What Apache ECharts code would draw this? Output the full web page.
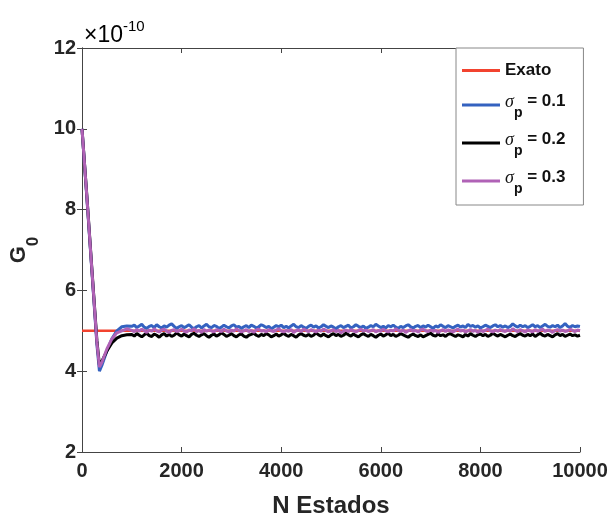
<!DOCTYPE html>
<html><head><meta charset="utf-8">
<script src="https://cdn.jsdelivr.net/npm/echarts@6/dist/echarts.min.js"></script>
<style>html,body{margin:0;padding:0;background:#fff}#c{width:608px;height:520px}</style>
</head><body><div id="c"></div>
<script>
// x positions (N Estados)
var nEstados = [0,100,200,300,350,400,500,600,700,800,900,
1000,1050,1100,1150,1200,1250,1300,1350,1400,1450,1500,1550,1600,1650,1700,1750,1800,1850,1900,1950,
2000,2050,2100,2150,2200,2250,2300,2350,2400,2450,2500,2550,2600,2650,2700,2750,2800,2850,2900,2950,
3000,3050,3100,3150,3200,3250,3300,3350,3400,3450,3500,3550,3600,3650,3700,3750,3800,3850,3900,3950,
4000,4050,4100,4150,4200,4250,4300,4350,4400,4450,4500,4550,4600,4650,4700,4750,4800,4850,4900,4950,
5000,5050,5100,5150,5200,5250,5300,5350,5400,5450,5500,5550,5600,5650,5700,5750,5800,5850,5900,5950,
6000,6050,6100,6150,6200,6250,6300,6350,6400,6450,6500,6550,6600,6650,6700,6750,6800,6850,6900,6950,
7000,7050,7100,7150,7200,7250,7300,7350,7400,7450,7500,7550,7600,7650,7700,7750,7800,7850,7900,7950,
8000,8050,8100,8150,8200,8250,8300,8350,8400,8450,8500,8550,8600,8650,8700,8750,8800,8850,8900,8950,
9000,9050,9100,9150,9200,9250,9300,9350,9400,9450,9500,9550,9600,9650,9700,9750,9800,9850,9900,9950,
10000];
// G0 values in units of 1e-10
var exatoX = [0, 10000];
var exatoY = [5, 5];
var sigma01 = [10.0,8.25,6.45,4.65,4.0,4.15,4.5,4.8,5.0,5.1,5.12,
5.11,5.14,5.08,5.12,5.16,5.09,5.06,5.11,5.13,5.08,
5.15,5.10,5.07,5.12,5.09,5.14,5.17,5.11,5.06,5.10,
5.13,5.08,5.11,5.15,5.09,5.05,5.10,5.13,5.07,5.12,
5.16,5.10,5.08,5.13,5.11,5.06,5.09,5.14,5.10,5.07,
5.12,5.15,5.09,5.11,5.06,5.10,5.13,5.08,5.14,5.11,
5.07,5.10,5.15,5.12,5.08,5.11,5.05,5.09,5.13,5.10,
5.14,5.08,5.11,5.07,5.12,5.16,5.10,5.08,5.13,5.09,
5.06,5.11,5.14,5.09,5.12,5.07,5.10,5.15,5.11,5.08,
5.12,5.09,5.05,5.10,5.13,5.08,5.11,5.14,5.07,5.10,
5.15,5.11,5.08,5.12,5.06,5.09,5.13,5.10,5.16,5.12,
5.08,5.11,5.07,5.13,5.10,5.14,5.09,5.06,5.11,5.08,
5.12,5.15,5.10,5.07,5.11,5.13,5.08,5.12,5.09,5.14,
5.10,5.06,5.12,5.09,5.15,5.11,5.08,5.13,5.10,5.07,
5.11,5.14,5.09,5.12,5.08,5.16,5.11,5.13,5.09,5.12,
5.07,5.10,5.14,5.11,5.08,5.12,5.15,5.10,5.13,5.09,
5.12,5.08,5.11,5.17,5.12,5.09,5.14,5.10,5.13,5.08,
5.11,5.15,5.10,5.13,5.08,5.12,5.16,5.11,5.09,5.13,
5.10,5.14,5.08,5.12,5.18,5.11,5.09,5.13,5.10,5.12,
5.11];
var sigma02 = [10.0,8.3,6.5,4.75,4.15,4.25,4.5,4.7,4.82,4.88,4.9,
4.91,4.87,4.93,4.89,4.85,4.90,4.94,4.88,4.86,4.92,
4.89,4.84,4.90,4.93,4.87,4.91,4.86,4.89,4.95,4.90,
4.87,4.92,4.88,4.85,4.91,4.94,4.89,4.86,4.90,4.93,
4.88,4.84,4.89,4.92,4.87,4.90,4.95,4.91,4.86,4.89,
4.93,4.88,4.85,4.90,4.92,4.87,4.84,4.89,4.91,4.94,
4.89,4.86,4.91,4.88,4.93,4.90,4.85,4.88,4.92,4.87,
4.90,4.94,4.89,4.86,4.91,4.88,4.84,4.90,4.93,4.89,
4.87,4.91,4.86,4.89,4.95,4.90,4.87,4.92,4.88,4.85,
4.90,4.93,4.88,4.91,4.86,4.89,4.94,4.90,4.87,4.92,
4.88,4.85,4.90,4.93,4.89,4.86,4.91,4.88,4.84,4.89,
4.92,4.87,4.90,4.94,4.88,4.91,4.86,4.89,4.93,4.90,
4.87,4.84,4.89,4.92,4.88,4.86,4.90,4.85,4.88,4.91,
4.94,4.89,4.87,4.92,4.88,4.90,4.86,4.91,4.93,4.89,
4.86,4.90,4.88,4.85,4.91,4.87,4.93,4.89,4.86,4.90,
4.92,4.88,4.91,4.86,4.89,4.94,4.90,4.87,4.91,4.88,
4.85,4.89,4.92,4.88,4.86,4.90,4.93,4.89,4.87,4.91,
4.88,4.92,4.86,4.90,4.94,4.89,4.87,4.91,4.88,4.85,
4.90,4.93,4.88,4.91,4.86,4.89,4.92,4.88,4.90,4.87,
4.89];
var sigma03 = [10.0,8.28,6.48,4.7,4.1,4.22,4.55,4.8,4.95,5.0,5.05,
5.01,4.98,5.03,4.99,5.04,5.00,4.96,5.02,4.99,5.05,
5.00,4.97,5.02,5.04,4.99,4.96,5.01,5.03,4.98,5.00,
5.04,4.99,4.97,5.02,5.00,5.05,4.98,5.01,4.96,5.03,
4.99,5.02,5.00,4.97,5.03,5.01,4.98,5.04,5.00,4.97,
5.02,4.99,5.05,5.01,4.97,5.00,5.03,4.98,5.01,4.96,
5.02,5.04,4.99,5.01,4.97,5.03,5.00,4.98,5.02,5.05,
5.00,4.97,5.01,4.99,5.03,4.96,5.00,5.02,4.98,5.04,
5.01,4.98,5.03,5.00,4.97,5.02,4.99,5.04,5.01,4.97,
5.00,5.03,4.98,5.01,4.95,4.99,5.02,4.98,5.03,5.00,
4.97,5.01,5.04,4.99,5.02,4.98,5.00,5.03,4.97,5.01,
4.99,5.04,5.00,4.97,5.02,4.99,5.05,5.01,4.98,5.02,
4.96,5.00,5.03,4.99,5.01,4.97,5.02,5.04,5.00,4.98,
5.02,4.99,5.01,4.96,5.00,5.03,4.98,5.02,5.00,4.97,
5.01,5.04,4.99,5.02,4.97,5.00,5.03,4.99,5.01,4.96,
5.02,4.98,5.01,5.04,5.00,4.97,5.02,4.99,5.03,5.00,
4.98,5.02,4.99,5.05,5.01,4.98,5.03,5.00,4.97,5.02,
5.00,4.97,5.03,4.99,5.01,5.04,4.98,5.02,5.00,4.96,
5.01,5.03,4.99,5.02,4.98,5.00,5.04,5.01,4.98,5.02,
5.00];
var seriesNames = ['Exato','σp = 0.1','σp = 0.2','σp = 0.3'];
var legendSub = {'σp = 0.1':'0.1','σp = 0.2':'0.2','σp = 0.3':'0.3'};
var xTicks = {min:0, max:10000, interval:2000};
var yTicks = {min:2, max:12, interval:2};

function pairs(xs, ys){ return xs.map(function(x,i){return [x, ys[i]];}); }

var FF = 'Liberation Sans, Arial';
var chart = echarts.init(document.getElementById('c'));
var lab = {fontFamily:FF, fontWeight:'bold', fontSize:20, color:'#262626', formatter:function(v){return String(v);}};
chart.setOption({
  animation:false,
  backgroundColor:'#fff',
  grid:{left:82, right:28, top:48, bottom:68, containLabel:false, outerBoundsMode:'none'},
  xAxis:[{
    type:'value', min:xTicks.min, max:xTicks.max, interval:xTicks.interval,
    name:'N Estados', nameLocation:'middle', nameGap:42,
    nameTextStyle:{fontFamily:FF, fontWeight:'bold', fontSize:24, color:'#262626'},
    axisLine:{show:true, lineStyle:{color:'#444', width:1}},
    axisTick:{inside:true, length:5, lineStyle:{color:'#444'}},
    axisLabel:Object.assign({margin:9}, lab),
    splitLine:{show:false}
  },{
    type:'value', position:'top', min:xTicks.min, max:xTicks.max, interval:xTicks.interval,
    axisLine:{show:true, lineStyle:{color:'#444', width:1}},
    axisTick:{inside:true, length:5, lineStyle:{color:'#444'}},
    axisLabel:{show:false}, splitLine:{show:false}
  }],
  yAxis:[{
    type:'value', min:yTicks.min, max:yTicks.max, interval:yTicks.interval,
    name:'{g|G}{s|0}', nameLocation:'middle', nameGap:40, nameRotate:90,
    nameTextStyle:{rich:{
      g:{fontFamily:FF, fontWeight:'bold', fontSize:22, color:'#262626', lineHeight:34, verticalAlign:'top'},
      s:{fontFamily:FF, fontWeight:'bold', fontSize:17, color:'#262626', lineHeight:17, verticalAlign:'bottom'}
    }},
    axisLine:{show:true, lineStyle:{color:'#444', width:1}},
    axisTick:{inside:true, length:5, lineStyle:{color:'#444'}},
    axisLabel:Object.assign({margin:6}, lab),
    splitLine:{show:false}
  },{
    type:'value', position:'right', min:yTicks.min, max:yTicks.max, interval:yTicks.interval,
    axisLine:{show:true, lineStyle:{color:'#444', width:1}},
    axisTick:{inside:true, length:5, lineStyle:{color:'#444'}},
    axisLabel:{show:false}, splitLine:{show:false}
  }],
  legend:{
    orient:'vertical', left:456, top:48,
    padding:[11,18,9,6], itemGap:8,
    backgroundColor:'#fff', borderColor:'#888', borderWidth:1,
    itemWidth:38, itemHeight:3, icon:'rect',
    data:seriesNames,
    formatter:function(n){
      if(n==='Exato') return '{e|Exato}';
      return '{g|σ}{s|p}{b| = ' + legendSub[n] + '}';
    },
    textStyle:{rich:{
      e:{fontFamily:FF, fontWeight:'bold', fontSize:17, color:'#111', lineHeight:28, padding:[3,0,3,0], verticalAlign:'middle'},
      b:{fontFamily:FF, fontWeight:'bold', fontSize:17, color:'#111', lineHeight:30, padding:[3,0,0,0], verticalAlign:'top'},
      g:{fontFamily:'Liberation Serif, DejaVu Serif', fontStyle:'italic', fontSize:18, color:'#111', lineHeight:30, padding:[3,0,0,0], verticalAlign:'top'},
      s:{fontFamily:FF, fontWeight:'bold', fontSize:14, color:'#111', lineHeight:14, verticalAlign:'bottom'}
    }}
  },
  graphic:[{
    type:'text', left:84, top:19,
    style:{text:'{a|×10}{b|-10}', rich:{
      a:{fontFamily:FF, fontSize:23, color:'#333', lineHeight:28, verticalAlign:'bottom'},
      b:{fontFamily:FF, fontSize:15, color:'#333', lineHeight:16, verticalAlign:'top'}
    }}
  }],
  series:[
    {name:'Exato', type:'line', showSymbol:false, color:'#f2432f', lineStyle:{width:2.5, color:'#f2432f'}, data:pairs(exatoX, exatoY), z:1},
    {name:'σp = 0.1', type:'line', showSymbol:false, color:'#3462c0', lineStyle:{width:3, color:'#3462c0'}, data:pairs(nEstados, sigma01), z:2},
    {name:'σp = 0.2', type:'line', showSymbol:false, color:'#000000', lineStyle:{width:3, color:'#000000'}, data:pairs(nEstados, sigma02), z:3},
    {name:'σp = 0.3', type:'line', showSymbol:false, color:'#b062b6', lineStyle:{width:3, color:'#b062b6'}, data:pairs(nEstados, sigma03), z:4}
  ]
});
</script></body></html>
